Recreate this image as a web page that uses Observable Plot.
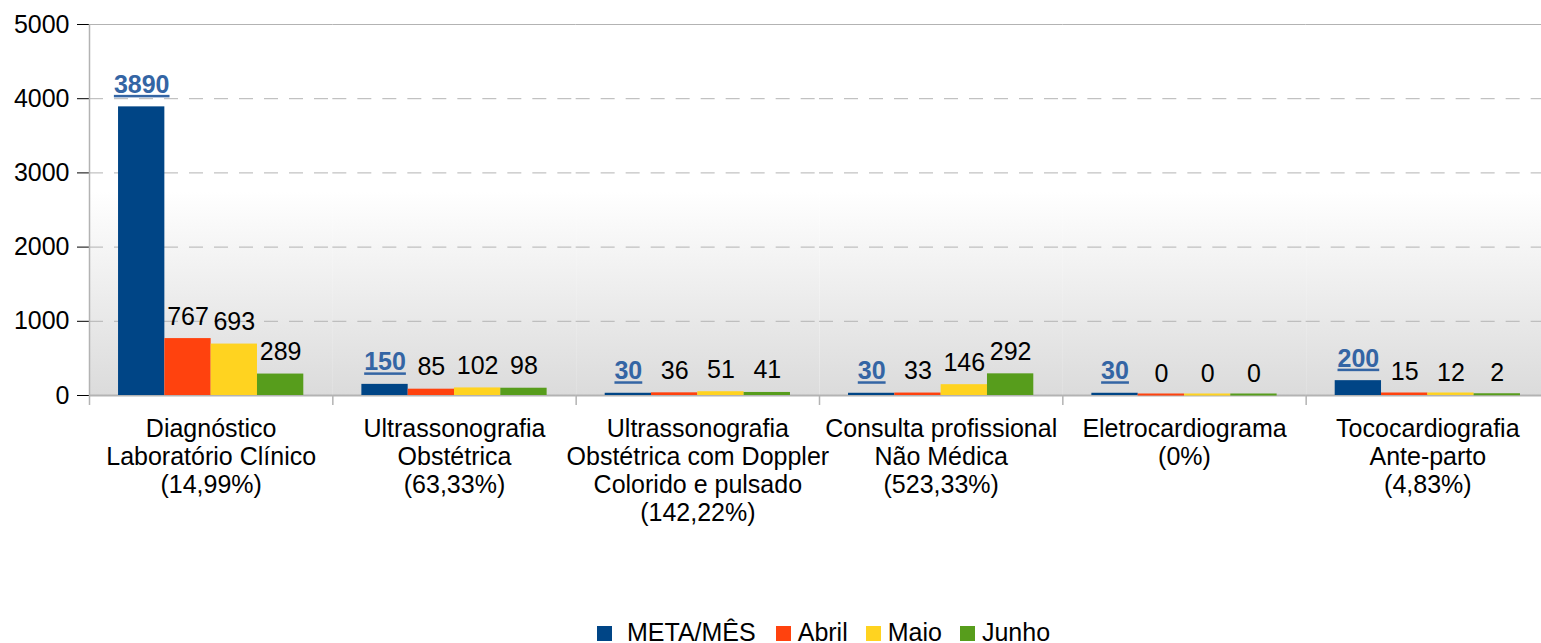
<!DOCTYPE html>
<html><head><meta charset="utf-8">
<script src="https://cdn.jsdelivr.net/npm/d3@7"></script>
<script src="https://cdn.jsdelivr.net/npm/@observablehq/plot@0.6"></script>
<style>
html,body{margin:0;padding:0;background:#fff;overflow:hidden;}
#wrap{position:relative;width:1541px;height:643px;overflow:hidden;font-family:"Liberation Sans",Arial,sans-serif;}
#chart svg{overflow:hidden;}
#legend{position:absolute;left:597px;top:620px;height:25px;line-height:25px;font-size:25px;white-space:nowrap;color:#000;}
#legend .sw{display:inline-block;width:15px;height:15px;vertical-align:baseline;}
#legend .it{display:inline-block;margin-right:18px;}
g[aria-label="y-axis tick"]{stroke:#b3b3b3;}
g[font-weight="bold"] text{text-decoration:underline;}
</style>
</head><body>
<div id="wrap"><div id="chart"></div><div id="legend"></div></div>
<script>
const categories = [
  "Diagnóstico\nLaboratório Clínico\n(14,99%)",
  "Ultrassonografia\nObstétrica\n(63,33%)",
  "Ultrassonografia\nObstétrica com Doppler\nColorido e pulsado\n(142,22%)",
  "Consulta profissional\nNão Médica\n(523,33%)",
  "Eletrocardiograma\n(0%)",
  "Tococardiografia\nAnte-parto\n(4,83%)"
];
const series = ["META/MÊS", "Abril", "Maio", "Junho"];
const meta  = [3890, 150, 30, 30, 30, 200];
const abril = [767, 85, 36, 33, 0, 15];
const maio  = [693, 102, 51, 146, 0, 12];
const junho = [289, 98, 41, 292, 0, 2];
const colors = ["#004586", "#ff420e", "#ffd320", "#579d1c"];
const yTicks = [0, 1000, 2000, 3000, 4000, 5000];

const valuesBySeries = [meta, abril, maio, junho];
const rows = [];
categories.forEach((c, i) => series.forEach((s, j) => rows.push({cat: c, series: s, value: valuesBySeries[j][i]})));

const W = 1541, H = 600, mL = 89, mR = -8, mT = 24, mB = 205;
const padOuter = 0.627;
const facetW = (W - mL - mR) / categories.length;
const step = facetW / (series.length + 2 * padOuter);
const sepDx = -(padOuter * step + step / 2);

const plot = Plot.plot({
  width: W, height: H,
  marginLeft: mL, marginRight: mR, marginTop: mT, marginBottom: mB,
  style: {fontFamily: "Liberation Sans, Arial, sans-serif", fontSize: "25px", color: "#000", background: "transparent"},
  fx: {domain: categories, padding: 0, round: false, axis: null},
  x: {domain: series, paddingInner: 0, paddingOuter: padOuter, round: false, axis: null},
  y: {domain: [yTicks[0], yTicks[yTicks.length - 1]], ticks: yTicks, tickSize: 12, tickPadding: 8, tickFormat: d => String(d), label: null},
  color: {domain: series, range: colors},
  marks: [
    Plot.frame({fill: "url(#bgGrad)", stroke: "none"}),
    Plot.ruleY(yTicks.slice(1, -1), {stroke: "#b3b3b3", strokeDasharray: "14,11", strokeWidth: 1}),
    Plot.ruleY([yTicks[yTicks.length - 1]], {stroke: "#b3b3b3", strokeWidth: 1}),
    Plot.ruleY([yTicks[0]], {stroke: "#b3b3b3", strokeWidth: 2}),
    Plot.barY(rows, {fx: "cat", x: "series", y: "value", fill: "series"}),
    Plot.tickY(rows.filter(d => d.value < 20), {fx: "cat", x: "series", y: "value", stroke: "series", strokeWidth: 2, dy: -1}),
    Plot.text(rows.filter(d => d.series !== series[0]), {fx: "cat", x: "series", y: "value", text: d => String(d.value), lineAnchor: "bottom", dy: -14, fontSize: 25, fill: "#000"}),
    Plot.text(rows.filter(d => d.series === series[0]), {fx: "cat", x: "series", y: "value", text: d => String(d.value), lineAnchor: "bottom", dy: -14, fontSize: 25, fontWeight: "bold", fill: "#3465a4"}),
    Plot.ruleX([categories[0]], {fx: d => d, x: () => series[0], dx: sepDx, y1: 0, y2: yTicks[yTicks.length - 1], insetTop: 10, stroke: "#b3b3b3", strokeWidth: 1.5}),
    Plot.ruleX(categories.slice(1), {fx: d => d, x: () => series[0], dx: sepDx, y1: 0, y2: 0, insetTop: 10, stroke: "#b3b3b3", strokeWidth: 1.5}),
    Plot.axisFx({anchor: "bottom", tickSize: 0, tickPadding: 21, fontSize: 25, lineHeight: 1.13, label: null, tickFormat: d => d})
  ]
});

// gradient background definition
const ns = "http://www.w3.org/2000/svg";
const defs = document.createElementNS(ns, "defs");
const grad = document.createElementNS(ns, "linearGradient");
grad.setAttribute("id", "bgGrad");
grad.setAttribute("x1", "0"); grad.setAttribute("y1", "0");
grad.setAttribute("x2", "0"); grad.setAttribute("y2", "1");
[["0", "#ffffff"], ["0.45", "#ffffff"], ["1", "#dbdbdb"]].forEach(([o, c]) => {
  const st = document.createElementNS(ns, "stop");
  st.setAttribute("offset", o); st.setAttribute("stop-color", c);
  grad.appendChild(st);
});
defs.appendChild(grad);
plot.insertBefore(defs, plot.firstChild);
document.getElementById("chart").appendChild(plot);

// legend
const leg = document.getElementById("legend");
series.forEach((s, j) => {
  const it = document.createElement("span");
  it.className = "it";
  if (j === 0) it.style.marginRight = "20px";
  const sw = document.createElement("span");
  sw.className = "sw";
  sw.style.background = colors[j];
  sw.style.marginRight = j === 0 ? "15px" : "7px";
  it.appendChild(sw);
  it.appendChild(document.createTextNode(s));
  leg.appendChild(it);
});
</script>
</body></html>
